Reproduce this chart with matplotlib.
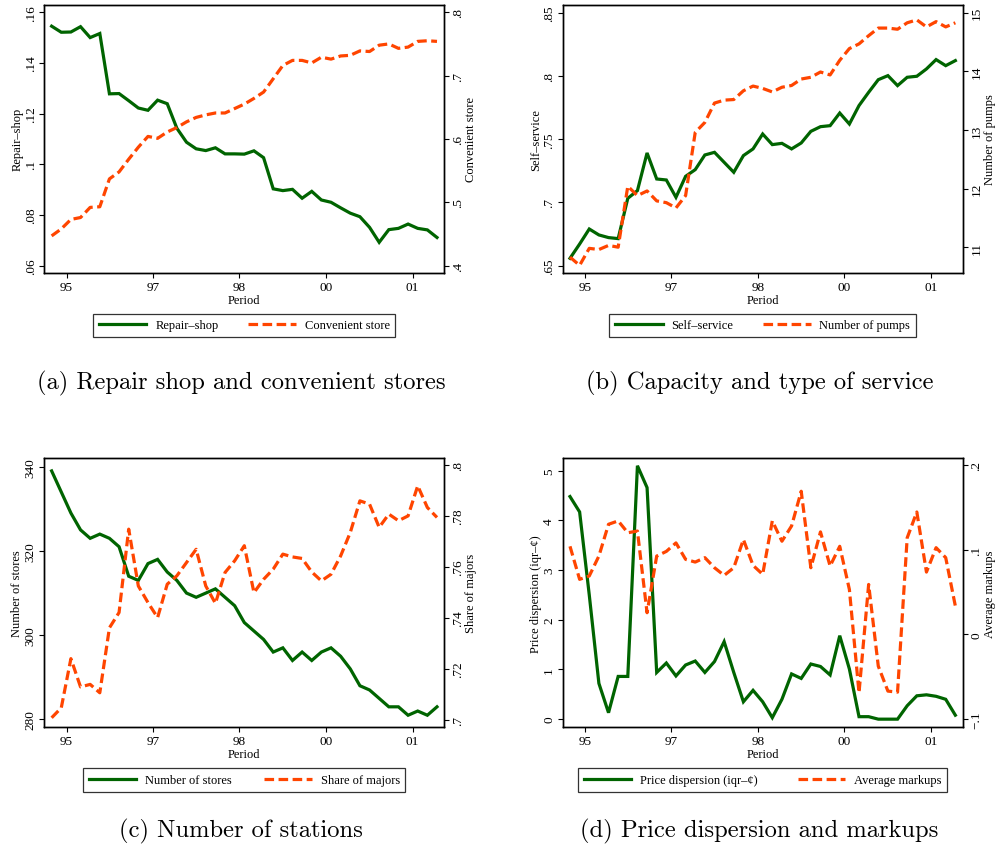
import matplotlib
matplotlib.use('Agg')
import matplotlib.pyplot as plt
import numpy as np

# quarterly series, 41 periods
period = np.arange(41)
period_ticks = [1.55, 10.53, 19.5, 28.48, 37.47]
period_labels = ['95', '97', '98', '00', '01']

repair_shop = [.1545, .1521, .1522, .1543, .150, .1516, .1278, .1279, .1251, .1222,
               .1213, .1253, .1239, .1142, .1087, .1061, .1054, .1065, .1041, .1041,
               .1040, .1053, .1026, .0903, .0896, .0901, .0866, .0893, .0859, .0850,
               .0828, .0807, .0793, .0751, .0692, .0742, .0747, .0764, .0747, .0741, .0711]
convenient_store = [.447, .458, .473, .476, .492, .493, .537, .548, .568, .587,
                    .604, .601, .611, .618, .627, .634, .638, .641, .641, .648,
                    .655, .664, .674, .695, .716, .724, .724, .720, .729, .726,
                    .731, .732, .739, .738, .748, .750, .743, .745, .754, .755, .754]

self_service = [.6558, .6671, .679, .6743, .6722, .6714, .7033, .7094, .7392, .7186,
                .7178, .7041, .7207, .726, .7376, .7397, .7318, .7239, .7371, .7424,
                .7542, .7458, .7468, .7424, .7471, .7563, .76, .7608, .7708, .7621,
                .7767, .7872, .7972, .8004, .7925, .7991, .7999, .8057, .8131, .8083, .8123]
pumps = [10.83, 10.69, 10.98, 10.96, 11.03, 11.0, 12.04, 11.88, 11.96, 11.79,
         11.76, 11.67, 11.88, 12.96, 13.13, 13.46, 13.51, 13.52, 13.67, 13.75,
         13.71, 13.65, 13.73, 13.76, 13.87, 13.9, 13.99, 13.94, 14.19, 14.39,
         14.47, 14.61, 14.74, 14.74, 14.72, 14.83, 14.88, 14.76, 14.85, 14.76, 14.83]

stores = [339, 334, 329, 325, 323, 324, 323, 321, 314, 313,
          317, 318, 315, 313, 310, 309, 310, 311, 309, 307,
          303, 301, 299, 296, 297, 294, 296, 294, 296, 297,
          295, 292, 288, 287, 285, 283, 283, 281, 282, 281, 283]
share_majors = [.7007, .7046, .7239, .7128, .7138, .7105, .736, .742, .7747, .7524,
                .7459, .740, .7531, .7564, .7616, .7668, .7524, .7456, .7577, .7623,
                .7682, .7498, .755, .759, .7649, .7638, .7632, .7579, .7544, .757,
                .7642, .7734, .7858, .7845, .7754, .7806, .778, .7799, .7917, .7832, .7793]

dispersion = [4.48, 4.17, 2.5, 0.72, 0.13, 0.86, 0.86, 5.1, 4.66, 0.94,
              1.13, 0.87, 1.09, 1.17, 0.94, 1.16, 1.56, 0.94, 0.35, 0.58,
              0.35, 0.03, 0.40, 0.91, 0.82, 1.11, 1.06, 0.89, 1.68, 1.01,
              0.05, 0.05, 0.0, 0.0, 0.0, 0.27, 0.47, 0.49, 0.46, 0.40, 0.08]
markups = [.104, .065, .069, .0925, .13, .134, .12, .122, .0256, .0925,
           .098, .108, .0886, .0854, .0906, .0787, .0697, .0787, .112, .0815,
           .0709, .134, .110, .128, .169, .0787, .121, .0807, .104, .0531,
           -.0689, .059, -.0374, -.0669, -.0681, .114, .1445, .0736, .1024, .0906, .0335]

GREEN = '#006400'
ORANGE = '#ff4500'
SERIF = 'Liberation Serif'

plt.rcParams['font.family'] = SERIF
plt.rcParams['font.size'] = 9

fig = plt.figure(figsize=(9.98, 8.54), dpi=100)


def panel(rect, left, right, left_lim, right_lim, left_ticks, left_labels,
          right_ticks, right_labels, left_name, right_name, caption, cap_y, colspace):
    ax = fig.add_axes(rect)
    ax2 = ax.twinx()

    l1, = ax.plot(period, left, color=GREEN, lw=2.3, solid_joinstyle='miter')
    l2, = ax2.plot(period, right, color=ORANGE, lw=2.3, dashes=(3, 1.4))

    ax.set_xlim(-0.76, 40.76)
    ax.set_ylim(*left_lim)
    ax2.set_ylim(*right_lim)

    ax.set_xticks(period_ticks)
    ax.set_xticklabels(period_labels)
    ax.set_yticks(left_ticks)
    ax.set_yticklabels(left_labels, rotation=90, va='center')
    ax2.set_yticks(right_ticks)
    ax2.set_yticklabels(right_labels, rotation=90, va='center')

    for a in (ax, ax2):
        for s in a.spines.values():
            s.set_linewidth(1.0)
        a.tick_params(length=3.5, width=0.8, pad=2, labelsize=9.5)

    ax.set_xlabel('Period', fontsize=9, labelpad=1)
    ax.set_ylabel(left_name, fontsize=9, labelpad=1)
    ax2.set_ylabel(right_name, fontsize=9, labelpad=1)

    leg = ax2.legend([l1, l2], [left_name, right_name], loc='upper center',
                     bbox_to_anchor=(0.5, -0.152), ncol=2, frameon=True,
                     fancybox=False, edgecolor='black', fontsize=9,
                     handlelength=3.8, handletextpad=0.7, columnspacing=colspace,
                     borderpad=0.45, borderaxespad=0)
    leg.get_frame().set_linewidth(0.9)

    # sub-figure caption below the legend
    cx = rect[0] + rect[2] / 2 - 0.003
    fig.text(cx, cap_y, caption, ha='center', va='center', fontsize=17.7,
             family='cmr10')


panel([0.0444, 0.6792, 0.4008, 0.3142], repair_shop, convenient_store,
      (0.0571, 0.163), (0.3885, 0.812),
      [.06, .08, .1, .12, .14, .16], ['.06', '.08', '.1', '.12', '.14', '.16'],
      [.4, .5, .6, .7, .8], ['.4', '.5', '.6', '.7', '.8'],
      'Repair\u2013shop', 'Convenient store',
      '(a) Repair shop and convenient stores', 0.5515, 2.4)

panel([0.5638, 0.6792, 0.4008, 0.3142], self_service, pumps,
      (0.6442, 0.8566), (10.56, 15.14),
      [.65, .7, .75, .8, .85], ['.65', '.7', '.75', '.8', '.85'],
      [11, 12, 13, 14, 15], ['11', '12', '13', '14', '15'],
      'Self\u2013service', 'Number of pumps',
      '(b) Capacity and type of service', 0.5515, 2.4)

panel([0.0444, 0.1470, 0.4008, 0.3152], stores, share_majors,
      (278.1, 342.0), (0.6969, 0.8025),
      [280, 300, 320, 340], ['280', '300', '320', '340'],
      [.7, .72, .74, .76, .78, .8], ['.7', '.72', '.74', '.76', '.78', '.8'],
      'Number of stores', 'Share of majors',
      '(c) Number of stations', 0.0258, 2.6)

panel([0.5638, 0.1470, 0.4008, 0.3152], dispersion, markups,
      (-0.167, 5.25), (-0.1098, 0.2079),
      [0, 1, 2, 3, 4, 5], ['0', '1', '2', '3', '4', '5'],
      [-.1, 0, .1, .2], ['\u2212.1', '0', '.1', '.2'],
      'Price dispersion (iqr\u2013\u00a2)', 'Average markups',
      '(d) Price dispersion and markups', 0.0258, 3.2)

fig.savefig('out.png', dpi=100)
